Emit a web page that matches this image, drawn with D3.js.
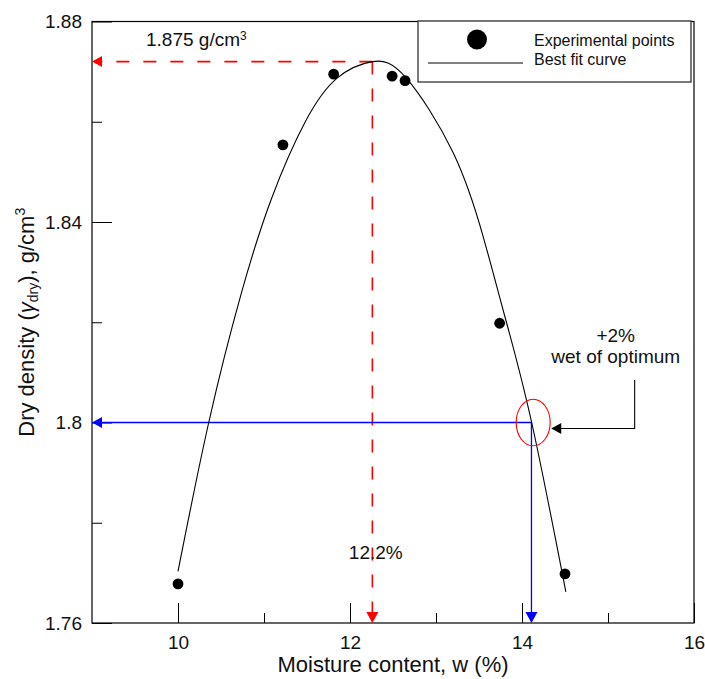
<!DOCTYPE html>
<html>
<head>
<meta charset="utf-8">
<script src="https://cdn.jsdelivr.net/npm/d3@7"></script>
<style>
  body { margin: 0; background: #fff; }
  svg { display: block; font-family: Arial, "Liberation Sans", sans-serif; }
</style>
</head>
<body>
<div id="chart"></div>
<script>
"use strict";

// experimental compaction points
var moisture = [10.0, 11.22, 11.81, 12.49, 12.64, 13.74, 14.50];
var density = [1.7678, 1.8554, 1.8695, 1.8691, 1.8682, 1.8198, 1.7698];

// best fit curve
var fitMoisture = [10.0, 10.36, 10.74, 11.09, 11.48, 11.85, 12.26, 12.65, 13.2, 13.55, 13.8, 14.11, 14.51];
var fitDensity = [1.7703, 1.8002, 1.826, 1.8448, 1.86, 1.8687, 1.872, 1.8688, 1.8538, 1.837, 1.8212, 1.8002, 1.7662];

var xTicks = [10, 12, 14, 16];
var xMinorTicks = [11, 13, 15];
var yTicks = [1.76, 1.8, 1.84, 1.88];
var yMinorTicks = [1.78, 1.82, 1.86];
var yTickLabels = ["1.76", "1.8", "1.84", "1.88"];

// annotations
var optMoisture = 12.26;
var optDensity = 1.872;
var wetMoisture = 14.11;
var wetDensity = 1.8;

var width = 705;
var height = 679;
var margin = { top: 21.5, right: 11, bottom: 56, left: 92 };

var translateStr = function (x, y) {
  return 'translate(' + x + ', ' + y + ')';
};

var x = d3.scaleLinear().domain([9, 16]).range([margin.left, width - margin.right]);
var y = d3.scaleLinear().domain([1.76, 1.88]).range([height - margin.bottom, margin.top]);

var svg = d3.select('#chart').append('svg')
  .attr('width', width)
  .attr('height', height);

var x0 = x.range()[0], x1 = x.range()[1];
var y0 = y.range()[0], y1 = y.range()[1];

// frame
svg.append('rect')
  .attr('x', x0).attr('y', y1)
  .attr('width', x1 - x0).attr('height', y0 - y1)
  .attr('fill', 'none').attr('stroke', '#000').attr('stroke-width', 1.2);

// axes, ticks pointing inward
var xAxis = svg.append('g').attr('transform', translateStr(0, y0))
  .call(d3.axisBottom(x).tickValues(xTicks).tickSize(-20).tickPadding(13).tickFormat(d3.format('d')));
svg.append('g').attr('transform', translateStr(0, y0))
  .call(d3.axisBottom(x).tickValues(xMinorTicks).tickSize(-10).tickFormat(''));

var yAxis = svg.append('g').attr('transform', translateStr(x0, 0))
  .call(d3.axisLeft(y).tickValues(yTicks).tickSize(-20).tickPadding(10)
    .tickFormat(function (d, i) { return yTickLabels[i]; }));
svg.append('g').attr('transform', translateStr(x0, 0))
  .call(d3.axisLeft(y).tickValues(yMinorTicks).tickSize(-10).tickFormat(''));

svg.selectAll('.domain').remove();
svg.selectAll('.tick line').attr('stroke', '#000').attr('stroke-width', 1);
svg.selectAll('.tick text')
  .attr('font-family', 'Arial, "Liberation Sans", sans-serif')
  .attr('font-size', 19).attr('fill', '#111');

// axis titles
svg.append('text')
  .attr('x', (x0 + x1) / 2).attr('y', 672)
  .attr('text-anchor', 'middle').attr('font-size', 22).attr('fill', '#111')
  .text('Moisture content, w (%)');

var yTitle = svg.append('text')
  .attr('transform', translateStr(34, (y0 + y1) / 2) + ' rotate(-90)')
  .attr('text-anchor', 'middle').attr('font-size', 22).attr('fill', '#111');
yTitle.append('tspan').text('Dry density (');
yTitle.append('tspan').attr('font-style', 'italic').text('\u03b3');
yTitle.append('tspan').attr('font-size', 14).attr('dy', 4).text('dry');
yTitle.append('tspan').attr('dy', -4).text('), g/cm');
yTitle.append('tspan').attr('font-size', 14).attr('dy', -9).text('3');

// red dashed guide to the optimum
svg.append('path')
  .attr('d', 'M' + x(optMoisture) + ',' + y(optDensity) + 'H' + (x0 + 8) +
    'M' + x(optMoisture) + ',' + y(optDensity) + 'V' + (y0 - 8))
  .attr('fill', 'none').attr('stroke', '#ff0000').attr('stroke-width', 1.6)
  .attr('stroke-dasharray', '13,14');
svg.append('path')
  .attr('d', 'M' + x0 + ',' + y(optDensity) + 'l10,-5.5v11z' +
    'M' + x(optMoisture) + ',' + y0 + 'l-6,-11h12z')
  .attr('fill', '#ff0000');

// blue guide at +2% wet of optimum
svg.append('path')
  .attr('d', 'M' + (x0 + 8) + ',' + y(wetDensity) + 'H' + x(wetMoisture) + 'V' + (y0 - 8))
  .attr('fill', 'none').attr('stroke', '#0000ff').attr('stroke-width', 1.3);
svg.append('path')
  .attr('d', 'M' + x0 + ',' + y(wetDensity) + 'l10,-5.5v11z' +
    'M' + x(wetMoisture) + ',' + y0 + 'l-6,-11h12z')
  .attr('fill', '#0000ff');

// best fit curve
var fitData = fitMoisture.map(function (m, i) { return { x: m, y: fitDensity[i] }; });
var line = d3.line()
  .x(function (d) { return x(d.x); })
  .y(function (d) { return y(d.y); })
  .curve(d3.curveNatural);
svg.append('path').datum(fitData)
  .attr('d', line)
  .attr('fill', 'none').attr('stroke', '#000').attr('stroke-width', 1.1);

// experimental points
svg.selectAll('circle.pt').data(moisture).enter().append('circle')
  .attr('class', 'pt')
  .attr('cx', function (d) { return x(d); })
  .attr('cy', function (d, i) { return y(density[i]); })
  .attr('r', 5.4).attr('fill', '#000');

// red ellipse around the +2% point
svg.append('ellipse')
  .attr('cx', x(14.13)).attr('cy', y(wetDensity))
  .attr('rx', 17).attr('ry', 23.3)
  .attr('fill', 'none').attr('stroke', '#ff0000').attr('stroke-width', 1.1);

// black callout arrow
svg.append('path')
  .attr('d', 'M' + x(15.31) + ',' + y(1.8085) + 'V' + y(1.7988) + 'H' + (x(14.34) + 9))
  .attr('fill', 'none').attr('stroke', '#000').attr('stroke-width', 1.1);
svg.append('path')
  .attr('d', 'M' + x(14.34) + ',' + y(1.7988) + 'l10,-5.5v11z')
  .attr('fill', '#000');

svg.append('text')
  .attr('x', x(15.09)).attr('y', y(1.8161))
  .attr('text-anchor', 'middle').attr('font-size', 19).attr('fill', '#111')
  .text('+2%');
svg.append('text')
  .attr('x', x(15.09)).attr('y', y(1.8118))
  .attr('text-anchor', 'middle').attr('font-size', 19).attr('fill', '#111')
  .text('wet of optimum');

var optLabel = svg.append('text')
  .attr('x', x(9.628)).attr('y', y(1.8751))
  .attr('font-size', 19).attr('fill', '#111');
optLabel.append('tspan').text('1.875 g/cm');
optLabel.append('tspan').attr('font-size', 12).attr('dy', -6).text('3');

svg.append('text')
  .attr('x', x(12.3)).attr('y', y(1.7727))
  .attr('text-anchor', 'middle').attr('font-size', 19).attr('fill', '#111')
  .text('12.2%');

// legend
var legend = svg.append('g').attr('transform', translateStr(418, 21));
legend.append('rect')
  .attr('width', 273).attr('height', 61)
  .attr('fill', '#fff').attr('stroke', '#333').attr('stroke-width', 1.3);
legend.append('circle').attr('cx', 59).attr('cy', 18.5).attr('r', 10).attr('fill', '#000');
legend.append('line').attr('x1', 10).attr('x2', 105).attr('y1', 42).attr('y2', 42)
  .attr('stroke', '#000').attr('stroke-width', 1.1);
legend.append('text').attr('x', 116).attr('y', 25).attr('font-size', 16).attr('fill', '#111')
  .text('Experimental points');
legend.append('text').attr('x', 116).attr('y', 44).attr('font-size', 16).attr('fill', '#111')
  .text('Best fit curve');
</script>
</body>
</html>
